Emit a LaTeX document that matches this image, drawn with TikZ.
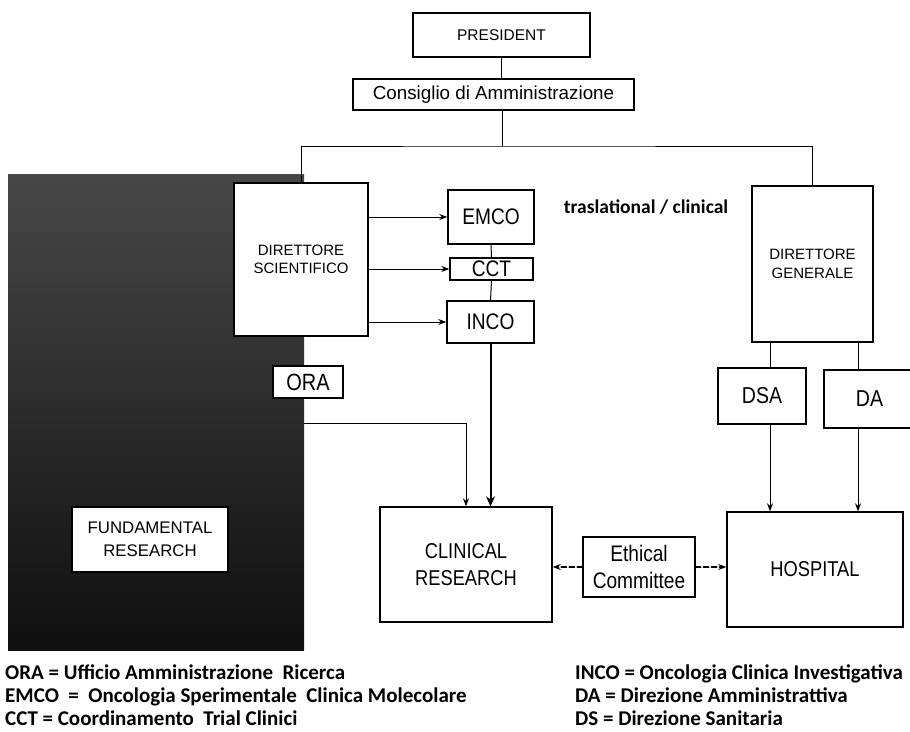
\documentclass[tikz,border=0pt]{standalone}
\usepackage{fontspec}
\setmainfont{Liberation Sans}
\newfontfamily\tallfont{Liberation Sans}[FakeStretch=0.85]
\newfontfamily\legendfont{Carlito}
\usepackage{tikz}
\usetikzlibrary{arrows.meta}
\tikzset{>={Stealth[length=8pt,width=6pt]},
  orgbox/.style={draw, fill=white, line width=1.4pt, inner sep=0pt, align=center},
  midtext/.style={font=\fontsize{15}{18.5}\selectfont},
  bigtext/.style={font=\tallfont\fontsize{22.5}{27}\selectfont},
  legend/.style={anchor=base west, inner sep=0pt, font=\legendfont\bfseries\fontsize{21}{23}\selectfont},
  link/.style={line width=1pt}}

\begin{document}
\begin{tikzpicture}[x=1pt, y=-1pt, line cap=round]

    \useasboundingbox (0,0) rectangle (910,731);

    % dark area behind the scientific side
    \shade [top color=black!72, bottom color=black!94] (8,174) rectangle (304,650);
    \coordinate (oraline) at (304,423);
    \coordinate (top) at (502,146);

	\node [orgbox, font=\fontsize{15.5}{18.5}\selectfont, minimum width=177, minimum height=44] (pres) at (501.5,35) {PRESIDENT};
	\node [orgbox, font=\fontsize{18.8}{22}\selectfont, minimum width=281, minimum height=31] (cda) at (493.5,94.5) {Consiglio di Amministrazione};

	\node [orgbox, midtext, minimum width=134, minimum height=153] (ds) at (301,259.5) {DIRETTORE\\SCIENTIFICO};
	\node [orgbox, midtext, minimum width=121, minimum height=156] (dg) at (812.5,264) {DIRETTORE\\GENERALE};

	\node [orgbox, bigtext, minimum width=86, minimum height=54] (emco) at (491,217) {EMCO};
	\node [orgbox, bigtext, minimum width=83, minimum height=22] (cct) at (491.5,269) {CCT};
	\node [orgbox, bigtext, minimum width=87, minimum height=42] (inco) at (490.5,322) {INCO};
	\node [orgbox, font=\tallfont\fontsize{23.5}{26}\selectfont, minimum width=70, minimum height=32] (ora) at (308,382) {ORA};

	\node [orgbox, font=\tallfont\fontsize{23}{26}\selectfont, minimum width=88, minimum height=56] (dsa) at (762,396) {DSA};
	\node [orgbox, font=\tallfont\fontsize{23}{26}\selectfont, minimum width=91, minimum height=58] (da) at (869.5,399) {DA};

	\node [orgbox, font=\fontsize{16.8}{23}\selectfont, minimum width=156, minimum height=65] (fr) at (150,539.5) {FUNDAMENTAL\\RESEARCH};
	\node [orgbox, font=\tallfont\fontsize{21.5}{27}\selectfont, minimum width=172, minimum height=115] (cr) at (466,564.5) {CLINICAL\\RESEARCH};
	\node [orgbox, bigtext, minimum width=112, minimum height=60] (eth) at (639,567) {Ethical\\Committee};
	\node [orgbox, font=\tallfont\fontsize{21.5}{26}\selectfont, minimum width=176, minimum height=115] (hosp) at (815,569.5) {HOSPITAL};

	\node [inner sep=0pt, font=\legendfont\bfseries\fontsize{19.5}{21}\selectfont] (trans) at (646,207) {traslational / clinical};


    \draw [link] (pres.south) -- (pres.south |- cda.north);
    \draw [link] (cda.south -| top) -- (top);
    \draw [link] (ds.north) |- (top) -| (dg.north);

    \draw [link, ->] (ds.east |- emco.west) -- (emco.west);
    \draw [link, ->] (ds.east |- cct.west) -- (cct.west);
    \draw [link, ->] (ds.east |- inco.west) -- (inco.west);
    \draw [link] (emco.south) -- (cct.north);
    \draw [link] (cct.south) -- (inco.north);

    \draw [line width=2pt, -{Stealth[length=10pt,width=9pt]}] (inco.south) -- (inco.south |- cr.north);
    \draw [link, ->] (oraline) -| (cr.north);

    \draw [link] ([xshift=8pt]dsa.north) -- ([xshift=8pt]dsa.north |- dg.south);
    \draw [link] ([xshift=-11.5pt]da.north) -- ([xshift=-11.5pt]da.north |- dg.south);
    \draw [link, ->] ([xshift=8pt]dsa.south) -- ([xshift=8pt]dsa.south |- hosp.north);
    \draw [link, ->] ([xshift=-11.5pt]da.south) -- ([xshift=-11.5pt]da.south |- hosp.north);

    \draw [line width=2pt, dash pattern=on 5pt off 3pt, ->] (eth.west) -- (eth.west -| cr.east);
    \draw [line width=2pt, dash pattern=on 5pt off 3pt, ->] (eth.east) -- (eth.east -| hosp.west);


	\node [legend] (lora) at (5,679) {ORA = Ufficio Amministrazione \ Ricerca};
	\node [legend] (lemco) at (5,702) {EMCO \ = \ Oncologia Sperimentale \ Clinica Molecolare};
	\node [legend] (lcct) at (5,725) {CCT = Coordinamento \ Trial Clinici};
	\node [legend] (linco) at (575,679) {INCO = Oncologia Clinica Investigativa};
	\node [legend] (lda) at (575,702) {DA = Direzione Amministrattiva};
	\node [legend] (lds) at (575,725) {DS = Direzione Sanitaria};

    \end{tikzpicture}
\end{document}
